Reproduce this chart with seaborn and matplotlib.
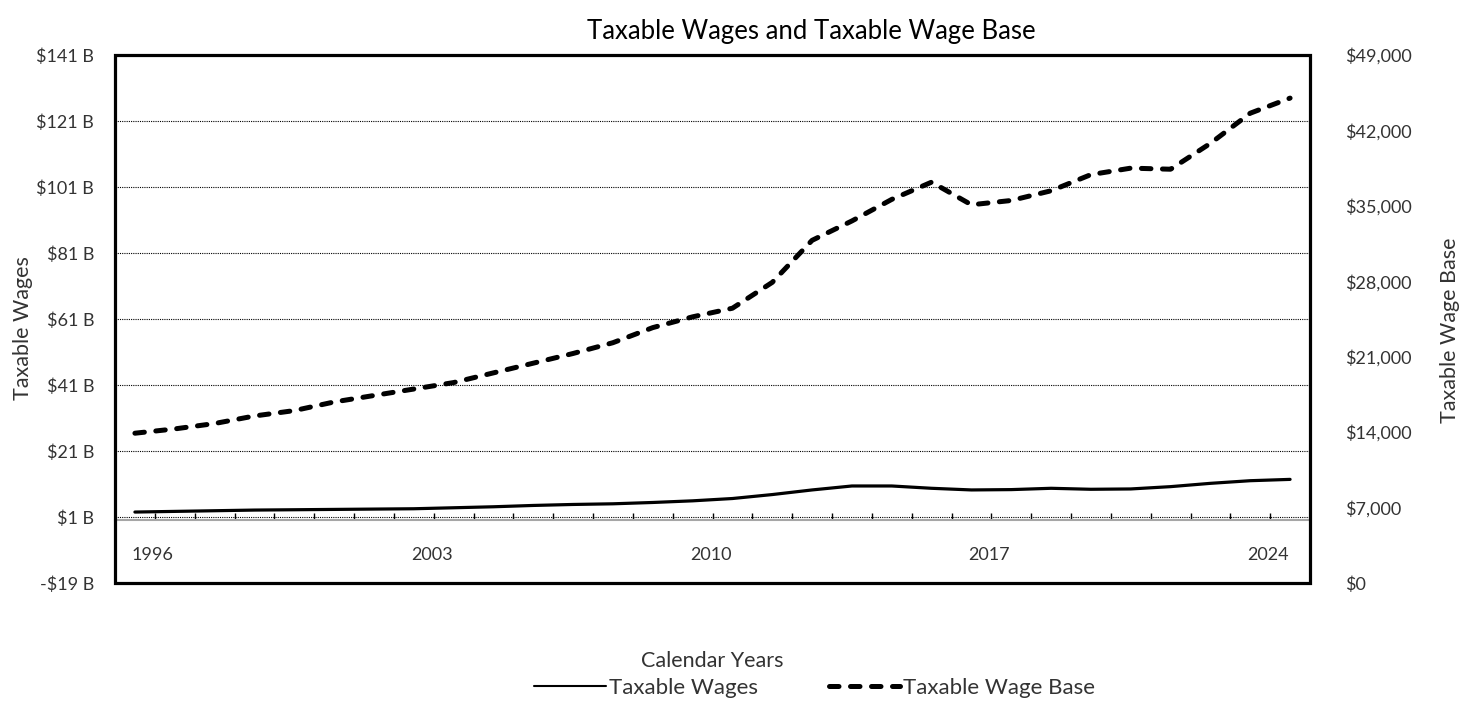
import numpy as np
import pandas as pd
import seaborn as sns
import matplotlib.pyplot as plt
import matplotlib.ticker as mticker
from matplotlib.patches import Rectangle
from matplotlib.lines import Line2D

# values
years = list(range(1996, 2026))
taxable_wages_b = [2.5, 2.7, 2.9, 3.1, 3.2, 3.3, 3.4, 3.5, 3.8, 4.1,
                   4.5, 4.8, 5.0, 5.4, 5.9, 6.6, 7.8, 9.2, 10.4, 10.4,
                   9.7, 9.2, 9.3, 9.7, 9.4, 9.5, 10.2, 11.2, 12.0, 12.4]
wage_base = [13900, 14300, 14800, 15500, 16000, 16800, 17400, 18000, 18600, 19500,
             20400, 21300, 22300, 23700, 24700, 25500, 27900, 31800, 33600, 35600,
             37200, 35100, 35500, 36400, 37900, 38500, 38400, 40800, 43600, 45000]
label_years = [1996, 2003, 2010, 2017, 2024]
left_ticks = list(range(-19, 142, 20))
right_ticks = list(range(0, 49001, 7000))

df = pd.DataFrame({'year': years, 'wages': taxable_wages_b, 'base': wage_base})

sns.set_theme(style='white')
plt.rcParams['font.family'] = ['Lato', 'DejaVu Sans']
txt = '#333333'

fig = plt.figure(figsize=(14.65, 7.06), dpi=100)
ax = fig.add_axes([115/1465, 1-583/706, (1310-115)/1465, (583-55)/706])
ax2 = ax.twinx()

sns.lineplot(data=df, x='year', y='wages', ax=ax, color='black', lw=2.3, legend=False)
sns.lineplot(data=df, x='year', y='base', ax=ax2, color='black', lw=3.6, legend=False)
ln_base = ax2.get_lines()[0]
ln_base.set_dashes((1.9, 2.3))
ln_base.set_dash_capstyle('round')

ax.set_xlim(1995.5, 2025.5)
ax.set_ylim(-19, 141)
ax2.set_ylim(0, 49000)

# left axis
ax.set_yticks(left_ticks)
ax.yaxis.set_major_formatter(mticker.FuncFormatter(
    lambda v, p: ('-$%d B' % abs(v)) if v < 0 else ('$%d B' % v)))
ax.tick_params(axis='y', length=0, pad=15, labelsize=13, labelcolor=txt)
ax.yaxis.grid(True, linestyle=(0, (1, 1)), color='black', lw=0.8)
ax.xaxis.grid(False)

# right axis
ax2.set_yticks(right_ticks)
ax2.yaxis.set_major_formatter(mticker.FuncFormatter(lambda v, p: '${:,.0f}'.format(v)))
ax2.tick_params(axis='y', length=0, pad=25, labelsize=13, labelcolor=txt)
ax2.grid(False)

# x axis sits on the zero line
ax.set_xticks([y + 0.45 for y in label_years])
ax.set_xticklabels([str(y) for y in label_years])
ax.set_xticks([y + 0.5 for y in years[:-1]], minor=True)
ax.tick_params(axis='x', which='major', length=0, pad=19, labelsize=13, labelcolor=txt)
ax.tick_params(axis='x', which='minor', direction='in', length=5, width=1, color='black', bottom=True)
ax.spines['bottom'].set_position(('data', 0))
ax.spines['bottom'].set_color('#a6a6a6')
ax.spines['bottom'].set_linewidth(1.5)
for s in ['left', 'right', 'top']:
    ax.spines[s].set_visible(False)
for s in ax2.spines.values():
    s.set_visible(False)
ax.set_xlabel('')
ax.set_ylabel('')
ax2.set_ylabel('')

ax.add_patch(Rectangle((0, 0), 1, 1, transform=ax.transAxes, fill=False,
                       ec='black', lw=2.3, clip_on=False, zorder=5))

fig.text(811/1465, 1-32/706, 'Taxable Wages and Taxable Wage Base',
         ha='center', va='center', fontsize=18.5, color='black')
fig.text(23/1465, 1-328/706, 'Taxable Wages', rotation=90,
         ha='center', va='center', fontsize=15.5, color=txt)
fig.text(1450/1465, 1-330/706, 'Taxable Wage Base', rotation=90,
         ha='center', va='center', fontsize=15.5, color=txt)
fig.text(712/1465, 1-661/706, 'Calendar Years',
         ha='center', va='center', fontsize=15.5, color=txt)

h1 = Line2D([], [], color='black', lw=1.5)
h2 = Line2D([], [], color='black', lw=3.6, dashes=(1.9, 2.3), dash_capstyle='round')
fig.legend([h1, h2], ['Taxable Wages', 'Taxable Wage Base'], loc='center',
           bbox_to_anchor=(815/1465, 1-688/706), ncol=2, frameon=False,
           fontsize=16, handlelength=3.2, handletextpad=0.15, columnspacing=3.2,
           labelcolor=txt)

fig.savefig('out.png', dpi=100)
